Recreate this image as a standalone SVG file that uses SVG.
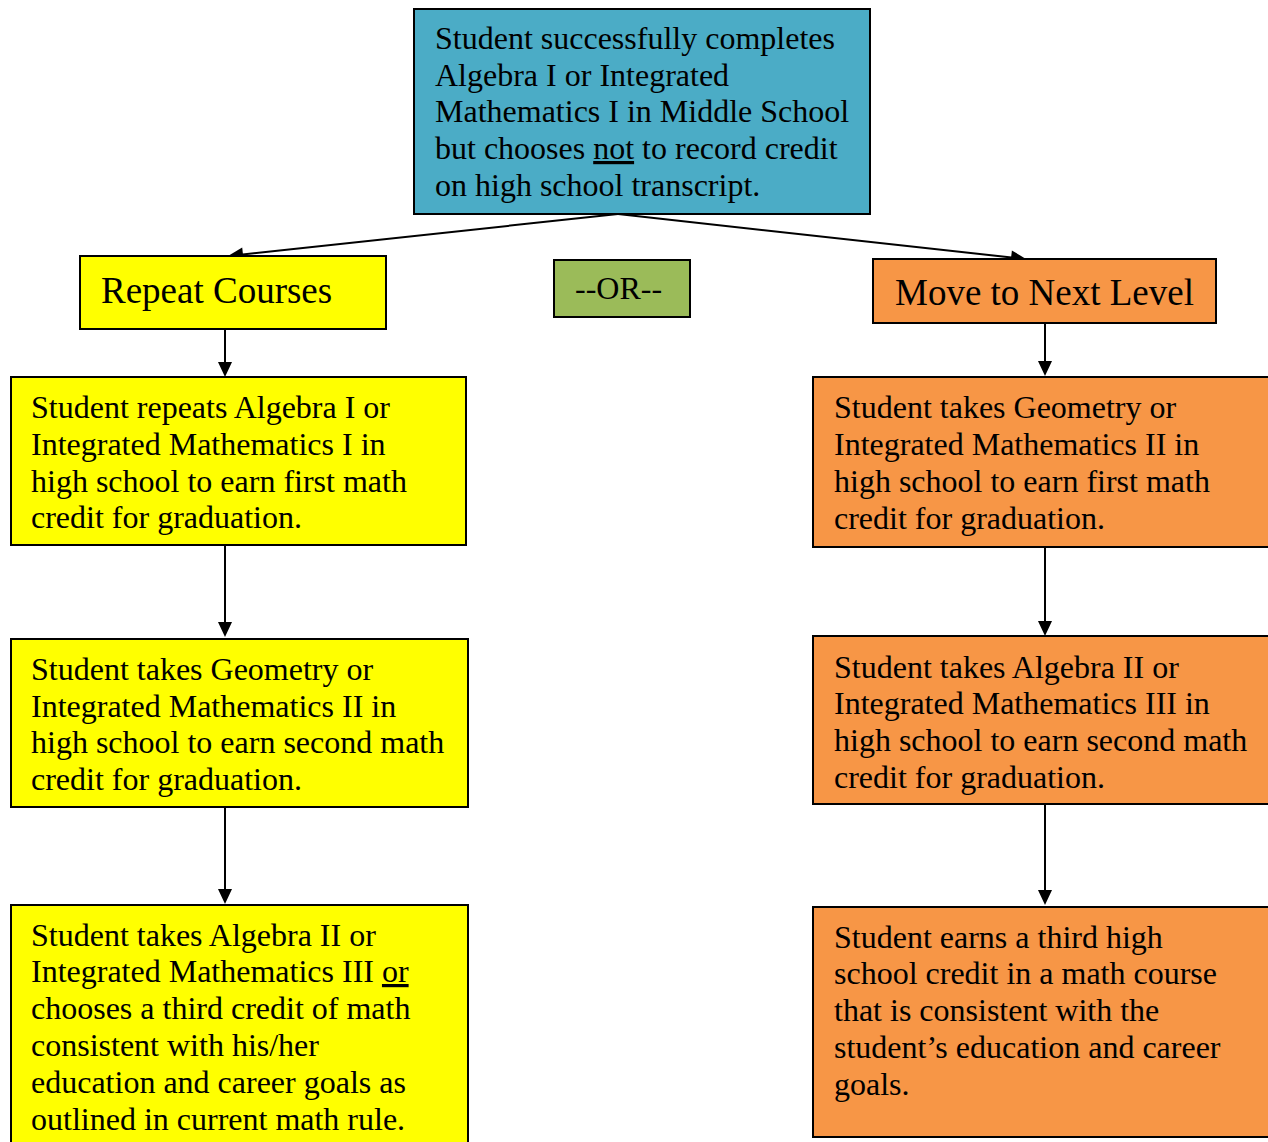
<svg xmlns="http://www.w3.org/2000/svg" width="1268" height="1142" viewBox="0 0 1268 1142">
<style>
.box{stroke:#000;stroke-width:2}
.blue{fill:#4BACC6}.yellow{fill:#FFFF00}.orange{fill:#F79646}.green{fill:#9BBB59}
text{font-family:"Liberation Serif","Times New Roman",serif;fill:#000}
.t{font-size:32px}.h{font-size:37px}
.ln{stroke:#000;stroke-width:2;fill:none}
.hd{fill:#000}
</style>
<rect width="1268" height="1142" fill="#fff"/>
<g id="connectors">
<line class="ln" x1="618" y1="214" x2="238" y2="255"/>
<path class="hd" d="M228,256 L243.7,261.4 L242.2,247.4 z"/>
<line class="ln" x1="618" y1="214" x2="1016" y2="258"/>
<path class="hd" d="M1026,259 L1010.3,264.3 L1011.9,250.4 z"/>
<line class="ln" x1="225" y1="329" x2="225" y2="364"/>
<path class="hd" d="M218,362 L232,362 L225,377 z"/>
<line class="ln" x1="225" y1="545" x2="225" y2="624"/>
<path class="hd" d="M218,622 L232,622 L225,637 z"/>
<line class="ln" x1="225" y1="807" x2="225" y2="891"/>
<path class="hd" d="M218,889 L232,889 L225,904 z"/>
<line class="ln" x1="1045" y1="323" x2="1045" y2="363"/>
<path class="hd" d="M1038,361 L1052,361 L1045,376 z"/>
<line class="ln" x1="1045" y1="547" x2="1045" y2="623"/>
<path class="hd" d="M1038,621 L1052,621 L1045,636 z"/>
<line class="ln" x1="1045" y1="804" x2="1045" y2="892"/>
<path class="hd" d="M1038,890 L1052,890 L1045,905 z"/>
</g>
<g id="start">
<rect class="box blue" x="414" y="9" width="456" height="205"/>
<text class="t" x="435" y="49">Student successfully completes</text>
<text class="t" x="435" y="86">Algebra I or Integrated</text>
<text class="t" x="435" y="122">Mathematics I in Middle School</text>
<text class="t" x="435" y="159">but chooses <tspan text-decoration="underline">not</tspan> to record credit</text>
<text class="t" x="435" y="196">on high school transcript.</text>
</g>
<g id="repeat">
<rect class="box yellow" x="80" y="256" width="306" height="73"/>
<text class="h" x="101" y="303">Repeat Courses</text>
</g>
<g id="or">
<rect class="box green" x="554" y="260" width="136" height="57"/>
<text class="t" x="575" y="299">--OR--</text>
</g>
<g id="move">
<rect class="box orange" x="873" y="259" width="343" height="64"/>
<text class="h" x="895" y="305">Move to Next Level</text>
</g>
<g id="left1">
<rect class="box yellow" x="11" y="377" width="455" height="168"/>
<text class="t" x="31" y="418">Student repeats Algebra I or</text>
<text class="t" x="31" y="455">Integrated Mathematics I in</text>
<text class="t" x="31" y="492">high school to earn first math</text>
<text class="t" x="31" y="528">credit for graduation.</text>
</g>
<g id="left2">
<rect class="box yellow" x="11" y="639" width="457" height="168"/>
<text class="t" x="31" y="680">Student takes Geometry or</text>
<text class="t" x="31" y="717">Integrated Mathematics II in</text>
<text class="t" x="31" y="753">high school to earn second math</text>
<text class="t" x="31" y="790">credit for graduation.</text>
</g>
<g id="left3">
<rect class="box yellow" x="11" y="905" width="457" height="250"/>
<text class="t" x="31" y="946">Student takes Algebra II or</text>
<text class="t" x="31" y="982">Integrated Mathematics III <tspan text-decoration="underline">or</tspan></text>
<text class="t" x="31" y="1019">chooses a third credit of math</text>
<text class="t" x="31" y="1056">consistent with his/her</text>
<text class="t" x="31" y="1093">education and career goals as</text>
<text class="t" x="31" y="1130">outlined in current math rule.</text>
</g>
<g id="right1">
<rect class="box orange" x="813" y="377" width="470" height="170"/>
<text class="t" x="834" y="418">Student takes Geometry or</text>
<text class="t" x="834" y="455">Integrated Mathematics II in</text>
<text class="t" x="834" y="492">high school to earn first math</text>
<text class="t" x="834" y="529">credit for graduation.</text>
</g>
<g id="right2">
<rect class="box orange" x="813" y="636" width="470" height="168"/>
<text class="t" x="834" y="678">Student takes Algebra II or</text>
<text class="t" x="834" y="714">Integrated Mathematics III in</text>
<text class="t" x="834" y="751">high school to earn second math</text>
<text class="t" x="834" y="788">credit for graduation.</text>
</g>
<g id="right3">
<rect class="box orange" x="813" y="907" width="470" height="230"/>
<text class="t" x="834" y="948">Student earns a third high</text>
<text class="t" x="834" y="984">school credit in a math course</text>
<text class="t" x="834" y="1021">that is consistent with the</text>
<text class="t" x="834" y="1058">student’s education and career</text>
<text class="t" x="834" y="1095">goals.</text>
</g>
</svg>
